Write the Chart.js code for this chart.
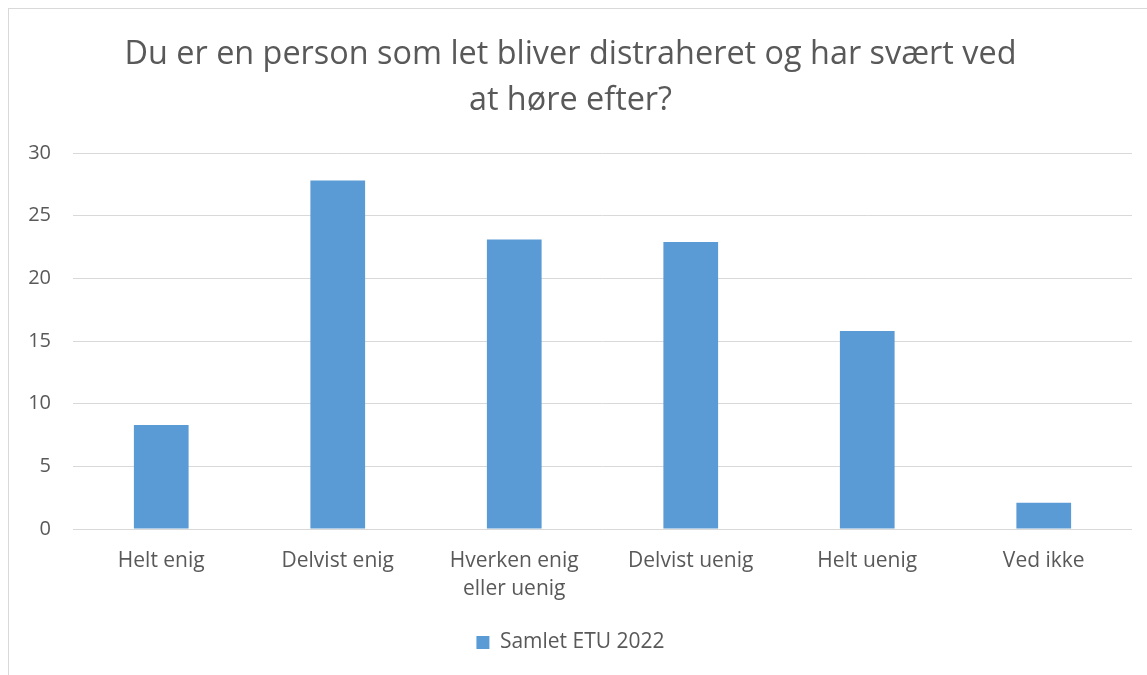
<!DOCTYPE html>
<html>
<head>
<meta charset="utf-8">
<script src="https://cdn.jsdelivr.net/npm/chart.js@4.4.0/dist/chart.umd.min.js"></script>
<style>
    html, body { margin: 0; padding: 0; background: #fff; overflow: hidden; }
    #frame {
        position: absolute; left: 8px; top: 8px;
        width: 1200px; height: 700px;
        border: 1px solid #d9d9d9;
    }
    #wrap { position: absolute; left: 0; top: 0; width: 1154px; height: 666px; }
</style>
</head>
<body>
<div id="frame">
    <div id="wrap"><canvas id="chart"></canvas></div>
</div>
<script>
const categories = ["Helt enig", "Delvist enig", ["Hverken enig", "eller uenig"], "Delvist uenig", "Helt uenig", "Ved ikke"];
const values = [8.3, 27.8, 23.1, 22.9, 15.8, 2.1];
const seriesName = "Samlet ETU 2022";
const titleLines = ["Du er en person som let bliver distraheret og har svært ved", "at høre efter?"];

const textColor = "#595959";
const gridColor = "#d9d9d9";
const barColor = "#5b9bd5";
const fontFamily = "'Open Sans', Lato, sans-serif";

const ctx = document.getElementById('chart').getContext('2d');

new Chart(ctx, {
    type: 'bar',
    data: {
        labels: categories,
        datasets: [{
            label: seriesName,
            data: values,
            backgroundColor: barColor,
            borderWidth: 0,
            categoryPercentage: 1.0,
            barPercentage: 0.31
        }]
    },
    options: {
        responsive: true,
        maintainAspectRatio: false,
        animation: false,
        layout: { padding: { top: 0, right: 31, bottom: 12, left: 0 } },
        plugins: {
            title: {
                display: true,
                text: titleLines,
                color: textColor,
                font: { family: fontFamily, size: 32.4, weight: 'normal', lineHeight: 1.42 },
                padding: { top: 23, bottom: 29 }
            },
            legend: {
                position: 'bottom',
                onClick: null,
                labels: {
                    color: textColor,
                    font: { family: fontFamily, size: 21 },
                    boxWidth: 13,
                    boxHeight: 13,
                    padding: 10
                }
            },
            tooltip: { enabled: false }
        },
        scales: {
            x: {
                grid: { display: false },
                border: { display: false },
                ticks: {
                    color: textColor,
                    font: { family: fontFamily, size: 21, lineHeight: 1.33 },
                    padding: 10,
                    maxRotation: 0,
                    autoSkip: false
                },
                afterFit: scale => { scale.height = 93; }
            },
            y: {
                min: 0,
                max: 30,
                ticks: {
                    stepSize: 5,
                    color: textColor,
                    font: { family: fontFamily, size: 20 },
                    padding: 22
                },
                grid: { color: gridColor, lineWidth: 1, drawTicks: false },
                border: { display: false },
                afterFit: scale => { scale.width = 64; }
            }
        }
    }
});
</script>
</body>
</html>
